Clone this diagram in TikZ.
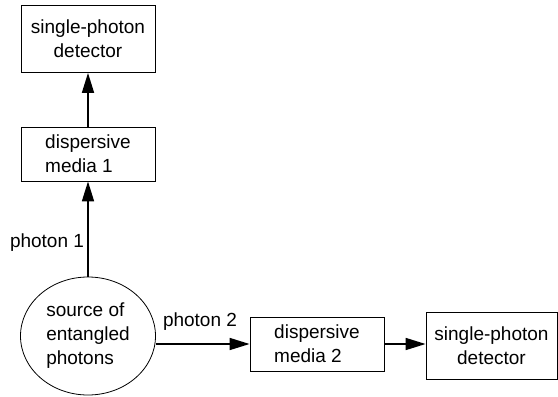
\documentclass[tikz,border=0pt]{standalone}
\usepackage{fontspec}
\setmainfont{Liberation Sans}
\usepackage{tikz}
\usetikzlibrary{arrows.meta, positioning, calc, shapes}

\begin{document}
\begin{tikzpicture}[
    x=1pt, y=-1pt,
    every node/.style={font=\fontsize{19}{24}\selectfont},
    box/.style={draw, line width=0.8pt, minimum width=134pt, minimum height=54pt, inner sep=0pt},
    detbox/.style={box, minimum height=67pt, align=center},
    medbox/.style={box, align=left},
    srcnode/.style={draw, ellipse, line width=0.8pt, minimum width=135pt, minimum height=118pt, inner sep=0pt, align=left},
    beam/.style={line width=1.6pt, -{Triangle[length=20pt, width=12pt]}},
    lbl/.style={inner sep=0pt}
]
    \useasboundingbox (0,0) rectangle (558,397);

    \node[detbox] (det1) at (88,39) {single-photon\\detector};
    \node[medbox] (med1) at (88,154) {dispersive\\media 1};
    \node[srcnode] (src) at (88,336) {source of\\entangled\\photons};
    \node[medbox] (med2) at (317,344) {dispersive\\media 2};
    \node[detbox, minimum width=131pt] (det2) at (491.5,345.5) {single-photon\\detector};

    \node[lbl] (lbl1) at (47,243) {photon 1};
    \node[lbl] (lbl2) at (200,322) {photon 2};

    \draw[beam] (src) -- (med1);
    \draw[beam] (med1) -- (det1);
    \draw[beam] (src.east |- med2.west) -- (med2.west);
    \draw[beam] (med2.east) -- (med2.east -| det2.west);
\end{tikzpicture}
\end{document}
